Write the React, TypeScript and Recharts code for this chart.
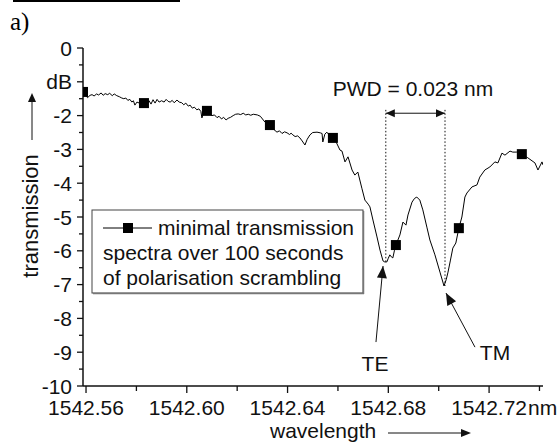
import React from 'react';
import {
  ComposedChart,
  Line,
  Scatter,
  XAxis,
  YAxis,
  ReferenceLine,
} from 'recharts';

// wavelength in nm, transmission in dB
const wavelength = [
  1542.5588, 1542.56, 1542.5606, 1542.5616, 1542.5624, 1542.5632, 1542.5642, 1542.565, 1542.566, 1542.5668,
  1542.5676, 1542.5686, 1542.5694, 1542.5704, 1542.5712, 1542.5722, 1542.5732, 1542.5742, 1542.575, 1542.5758,
  1542.5766, 1542.5774, 1542.5782, 1542.5788, 1542.5794, 1542.5802, 1542.5812, 1542.583, 1542.5842, 1542.585,
  1542.5858, 1542.5866, 1542.5874, 1542.5882, 1542.589, 1542.59, 1542.591, 1542.5918, 1542.5926, 1542.5934,
  1542.5942, 1542.595, 1542.5961, 1542.597, 1542.598, 1542.5988, 1542.5996, 1542.6006, 1542.6013, 1542.6022,
  1542.603, 1542.604, 1542.6048, 1542.6056, 1542.606, 1542.6068, 1542.608, 1542.609, 1542.61, 1542.611,
  1542.612, 1542.6128, 1542.6138, 1542.6146, 1542.6156, 1542.6164, 1542.6174, 1542.6184, 1542.6194, 1542.6204,
  1542.6214, 1542.6224, 1542.6234, 1542.6244, 1542.6254, 1542.6264, 1542.628, 1542.6292, 1542.631, 1542.633,
  1542.6344, 1542.6358, 1542.6368, 1542.6378, 1542.6388, 1542.6398, 1542.6408, 1542.6414, 1542.6421, 1542.643,
  1542.644, 1542.6449, 1542.6458, 1542.6469, 1542.6478, 1542.6489, 1542.65, 1542.6517, 1542.653, 1542.6537,
  1542.654, 1542.6548, 1542.6556, 1542.6566, 1542.658, 1542.6594, 1542.6608, 1542.6616, 1542.6628, 1542.664,
  1542.6656, 1542.6667, 1542.6679, 1542.6695, 1542.6707, 1542.672, 1542.6727, 1542.6739, 1542.6755, 1542.6767,
  1542.6779, 1542.6786, 1542.6794, 1542.68, 1542.6806, 1542.6812, 1542.6818, 1542.6824, 1542.683, 1542.6846,
  1542.6858, 1542.687, 1542.6878, 1542.6894, 1542.6904, 1542.6913, 1542.6925, 1542.6937, 1542.6953, 1542.6965,
  1542.6985, 1542.7005, 1542.7021, 1542.703, 1542.7037, 1542.7046, 1542.7056, 1542.7068, 1542.708, 1542.7092,
  1542.7104, 1542.7112, 1542.7132, 1542.7152, 1542.7163, 1542.7183, 1542.7203, 1542.7223, 1542.7235, 1542.7251,
  1542.7263, 1542.7283, 1542.7294, 1542.731, 1542.733, 1542.7354, 1542.7382, 1542.7394, 1542.741, 1542.7414,
];

const transmission = [
  -1.3, -1.42, -1.47, -1.4, -1.38, -1.42, -1.36, -1.39, -1.33, -1.4,
  -1.35, -1.38, -1.34, -1.41, -1.36, -1.41, -1.44, -1.48, -1.5, -1.48,
  -1.55, -1.52, -1.6, -1.56, -1.69, -1.6, -1.63, -1.63, -1.68, -1.56,
  -1.66, -1.53, -1.63, -1.52, -1.6, -1.56, -1.6, -1.52, -1.58, -1.6,
  -1.55, -1.62, -1.54, -1.6, -1.62, -1.68, -1.63, -1.72, -1.69, -1.78,
  -1.75, -1.83, -1.8, -1.88, -2.07, -1.9, -1.86, -1.95, -2.0, -1.98,
  -2.06, -2.02, -2.1, -2.05, -2.13, -2.08, -2.05, -2.0, -1.96, -1.95,
  -1.97, -1.93, -1.98, -1.96, -1.99, -1.96, -1.98, -2.02, -2.19, -2.28,
  -2.4, -2.49, -2.45, -2.53, -2.48, -2.51, -2.56, -2.52, -2.57, -2.62,
  -2.6, -2.66, -2.75, -2.87, -2.7, -2.57, -2.5, -2.49, -2.51, -2.53,
  -2.78, -2.55, -2.49, -2.58, -2.66, -2.8, -3.02, -3.05, -3.37, -3.22,
  -3.61, -3.76, -3.67, -4.15, -4.5, -4.62, -4.7, -5.09, -5.59, -5.98,
  -6.3, -6.33, -6.33, -6.22, -6.12, -6.18, -6.21, -6.0, -5.83, -5.53,
  -5.15, -5.24, -4.94, -4.56, -4.45, -4.41, -4.5, -4.79, -5.3, -5.68,
  -6.12, -6.63, -7.04, -6.85, -6.63, -6.3, -5.92, -5.77, -5.33, -5.0,
  -4.41, -4.29, -4.11, -4.05, -3.82, -3.61, -3.52, -3.37, -3.4, -3.11,
  -3.17, -3.05, -3.08, -3.08, -3.14, -3.25, -3.4, -3.61, -3.37, -3.46,
];

// square markers on the trace
const markerWavelength = [1542.5588, 1542.583, 1542.608, 1542.633, 1542.658, 1542.683, 1542.708, 1542.733];
const markerTransmission = [-1.3, -1.63, -1.86, -2.28, -2.66, -5.83, -5.33, -3.14];

const xMajorTicks = [1542.56, 1542.6, 1542.64, 1542.68, 1542.72];
const xMinorTicks = [1542.58, 1542.62, 1542.66, 1542.7, 1542.74];
const xTickLabels = ['1542.56', '1542.60', '1542.64', '1542.68', '1542.72'];
const yMajorTicks = [0, -1, -2, -3, -4, -5, -6, -7, -8, -9, -10];
const yMinorTicks = [-0.5, -1.5, -2.5, -3.5, -4.5, -5.5, -6.5, -7.5, -8.5, -9.5];

// TE / TM minima, used for the PWD markers
const teWavelength = 1542.679;
const tmWavelength = 1542.7025;

const FONT = '"Liberation Sans", Arial, sans-serif';
const INK = '#111';

const traceData = wavelength.map((x, i) => ({ x, y: transmission[i] }));
const markerData = markerWavelength.map((x, i) => ({ x, y: markerTransmission[i] }));
const xTicks = [...xMajorTicks, ...xMinorTicks].sort((a, b) => a - b);
const yTicks = [...yMajorTicks, ...yMinorTicks].sort((a, b) => b - a);

const near = (a: number, b: number) => Math.abs(a - b) < 1e-6;

const XTick = ({ x, y, payload }: any) => {
  const idx = xMajorTicks.findIndex((t) => near(t, payload.value));
  const major = idx >= 0;
  return (
    <g>
      <line x1={x} y1={y} x2={x} y2={y + (major ? 7 : 5)} stroke={INK} strokeWidth={1.3} />
      {major && (
        <text x={x} y={y + 29} textAnchor="middle" fontSize={21} fontFamily={FONT} fill={INK}>
          {xTickLabels[idx]}
        </text>
      )}
      {major && idx === xMajorTicks.length - 1 && (
        <text x={x + 39} y={y + 29} textAnchor="start" fontSize={21} fontFamily={FONT} fill={INK}>
          nm
        </text>
      )}
    </g>
  );
};

const YTick = ({ x, y, payload }: any) => {
  const v = payload.value;
  const major = Number.isInteger(v);
  return (
    <g>
      <line x1={x - (major ? 6 : 4)} y1={y} x2={x} y2={y} stroke={INK} strokeWidth={1.3} />
      {major && (
        <text x={x - 11} y={y + 7.5} textAnchor="end" fontSize={21} fontFamily={FONT} fill={INK}>
          {v === -1 ? 'dB' : String(v)}
        </text>
      )}
    </g>
  );
};

const arrowHead = (tx: number, ty: number, fx: number, fy: number, len: number, half: number) => {
  const a = Math.atan2(ty - fy, tx - fx);
  const bx = tx - len * Math.cos(a);
  const by = ty - len * Math.sin(a);
  const px = -Math.sin(a) * half;
  const py = Math.cos(a) * half;
  return `${tx},${ty} ${bx + px},${by + py} ${bx - px},${by - py}`;
};

const arrowShape = (both: boolean, len: number, half: number) => (props: any) => {
  const { x1, y1, x2, y2 } = props;
  return (
    <g>
      <line x1={x1} y1={y1} x2={x2} y2={y2} stroke={INK} strokeWidth={1} />
      <polygon points={arrowHead(x2, y2, x1, y1, len, half)} fill={INK} />
      {both && <polygon points={arrowHead(x1, y1, x2, y2, len, half)} fill={INK} />}
    </g>
  );
};

const SquareMarker = ({ cx, cy }: any) => (
  <rect x={cx - 5} y={cy - 5} width={10} height={10} fill="#000" />
);

export default function App() {
  return (
    <div style={{ position: 'fixed', left: 0, top: 0, width: 558, height: 446, background: '#fff' }}>
      <div style={{ position: 'absolute', left: 0, top: 0 }}>
        <ComposedChart width={558} height={446} margin={{ top: 48, right: 15, bottom: 30, left: 23 }}>
          <XAxis
            type="number"
            dataKey="x"
            domain={[1542.5588, 1542.7414]}
            ticks={xTicks}
            interval={0}
            allowDataOverflow
            height={30}
            tickSize={0}
            tickMargin={0}
            tickLine={false}
            axisLine={{ stroke: INK, strokeWidth: 1.5 }}
            tick={<XTick />}
          />
          <YAxis
            type="number"
            dataKey="y"
            domain={[-10, 0]}
            ticks={yTicks}
            interval={0}
            allowDataOverflow
            width={60}
            tickSize={0}
            tickMargin={0}
            tickLine={false}
            axisLine={{ stroke: INK, strokeWidth: 1.5 }}
            tick={<YTick />}
          />
          <ReferenceLine
            segment={[{ x: teWavelength, y: -1.83 }, { x: teWavelength, y: -6.33 }]}
            stroke={INK}
            strokeWidth={1}
            strokeDasharray="1.5 2"
          />
          <ReferenceLine
            segment={[{ x: tmWavelength, y: -1.83 }, { x: tmWavelength, y: -7.04 }]}
            stroke={INK}
            strokeWidth={1}
            strokeDasharray="1.5 2"
          />
          <ReferenceLine
            segment={[{ x: teWavelength, y: -1.93 }, { x: tmWavelength, y: -1.93 }]}
            shape={arrowShape(true, 9, 4)}
          />
          <ReferenceLine
            segment={[{ x: 1542.6751, y: -8.7 }, { x: 1542.6779, y: -6.45 }]}
            shape={arrowShape(false, 12, 5)}
          />
          <ReferenceLine
            segment={[{ x: 1542.7144, y: -8.85 }, { x: 1542.7029, y: -7.25 }]}
            shape={arrowShape(false, 12, 5)}
          />
          <Line
            data={traceData}
            dataKey="y"
            type="linear"
            stroke="#000"
            strokeWidth={1}
            dot={false}
            activeDot={false}
            isAnimationActive={false}
          />
          <Scatter data={markerData} dataKey="y" shape={<SquareMarker />} isAnimationActive={false} />
        </ComposedChart>
      </div>
      <svg
        width={558}
        height={446}
        style={{ position: 'absolute', left: 0, top: 0, pointerEvents: 'none' }}
      >
        <rect x={13} y={0} width={167} height={2} fill="#000" />
        <text x={10} y={30} fontSize={25} fontFamily='"Liberation Serif", "Times New Roman", serif' fill="#000">
          a)
        </text>

        {/* y axis title with arrow */}
        <text
          x={38}
          y={216}
          transform="rotate(-90 38 216)"
          textAnchor="middle"
          fontSize={22}
          fontFamily={FONT}
          fill={INK}
        >
          transmission
        </text>
        <line x1={32} y1={140} x2={32} y2={100} stroke={INK} strokeWidth={1} />
        <polygon points="32,93 28,102 36,102" fill={INK} />

        {/* x axis title with arrow */}
        <text x={270} y={438} fontSize={21} fontFamily={FONT} fill={INK}>
          wavelength
        </text>
        <line x1={388} y1={433} x2={462} y2={433} stroke={INK} strokeWidth={1} />
        <polygon points="471,433 461,429 461,437" fill={INK} />

        {/* annotations */}
        <text x={413} y={96} textAnchor="middle" fontSize={21} fontFamily={FONT} fill={INK}>
          PWD = 0.023 nm
        </text>
        <text x={375} y={371} textAnchor="middle" fontSize={21} fontFamily={FONT} fill={INK}>
          TE
        </text>
        <text x={495} y={360} textAnchor="middle" fontSize={21} fontFamily={FONT} fill={INK}>
          TM
        </text>

        {/* legend */}
        <rect x={92} y={210} width={271} height={83} fill="#fff" stroke="#444" strokeWidth={1} />
        <line x1={363.5} y1={211} x2={363.5} y2={294} stroke="#777" strokeWidth={1.5} />
        <line x1={93} y1={293.5} x2={364} y2={293.5} stroke="#777" strokeWidth={1.5} />
        <line x1={103} y1={228} x2={152} y2={228} stroke="#000" strokeWidth={1} />
        <rect x={123} y={223} width={10} height={10} fill="#000" />
        <text x={158} y={235} fontSize={21} fontFamily={FONT} fill={INK}>
          minimal transmission
        </text>
        <text x={103} y={260} fontSize={21} fontFamily={FONT} fill={INK}>
          spectra over 100 seconds
        </text>
        <text x={103} y={285} fontSize={21} fontFamily={FONT} fill={INK}>
          of polarisation scrambling
        </text>
      </svg>
    </div>
  );
}
